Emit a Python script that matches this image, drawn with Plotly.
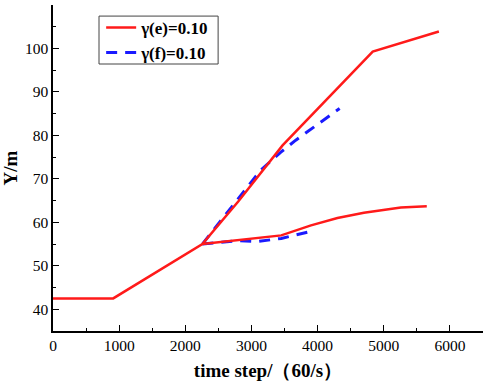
import plotly.graph_objects as go

# Data
red_upper_x = [0, 910, 2258, 2800, 3470, 4833, 5833]
red_upper_y = [42.5, 42.5, 55.0, 64.8, 77.7, 99.3, 103.9]

red_lower_x = [2258, 2833, 3450, 3900, 4300, 4700, 5258, 5650]
red_lower_y = [55.0, 56.0, 57.0, 59.3, 61.0, 62.2, 63.4, 63.7]

blue_upper_x = [2258, 2500, 2940, 3140, 3440, 3670, 4333]
blue_upper_y = [55.0, 59.6, 68.2, 72.0, 76.1, 78.9, 86.2]

blue_lower_x = [2258, 2800, 3100, 3450, 3900]
blue_lower_y = [55.0, 55.8, 55.6, 56.3, 57.9]

x_ticks = [0, 1000, 2000, 3000, 4000, 5000, 6000]
y_ticks = [40, 50, 60, 70, 80, 90, 100, 110]

RED = "#ff1a1a"
BLUE = "#1a1aff"
serif = "Liberation Serif, Times New Roman, serif"

fig = go.Figure()
fig.add_trace(go.Scatter(x=blue_upper_x + [None] + blue_lower_x,
                         y=blue_upper_y + [None] + blue_lower_y,
                         mode="lines", connectgaps=False,
                         line=dict(color=BLUE, width=3, dash="11px,8px"),
                         name="<b>γ(f)=0.10</b>", legendrank=2))
fig.add_trace(go.Scatter(x=red_upper_x + [None] + red_lower_x,
                         y=red_upper_y + [None] + red_lower_y,
                         mode="lines", connectgaps=False,
                         line=dict(color=RED, width=2.5),
                         name="<b>γ(e)=0.10</b>", legendrank=1))

axis_common = dict(showline=True, linecolor="black", linewidth=1.5,
                   showgrid=False, zeroline=False, ticks="inside",
                   ticklen=6, tickwidth=1.2, tickcolor="black",
                   automargin=False,
                   tickfont=dict(family=serif, size=15.5, color="black"))

fig.update_xaxes(range=[0, 6500], tickvals=x_ticks,
                 minor=dict(ticks="inside", dtick=500, tick0=0, ticklen=3,
                            tickwidth=1.2, tickcolor="black"),
                 title=dict(text="<b>time step/（60/s）</b>",
                            font=dict(family=serif, size=19, color="black"),
                            standoff=10),
                 **axis_common)
fig.update_yaxes(range=[35, 110], tickvals=y_ticks,
                 minor=dict(ticks="inside", dtick=5, tick0=35, ticklen=3,
                            tickwidth=1.2, tickcolor="black"),
                 title=dict(text="<b>Y/m</b>",
                            font=dict(family=serif, size=19, color="black"),
                            standoff=6),
                 **axis_common)

# legend frame drawn as a shape (paper coordinates)
fig.add_shape(type="rect", xref="paper", yref="paper",
              x0=0.107, x1=0.384, y0=0.819, y1=0.966,
              line=dict(color="#444", width=1), fillcolor="rgba(0,0,0,0)",
              layer="above")

fig.update_layout(
    width=484, height=381,
    margin=dict(l=53, r=1, t=5, b=50),
    plot_bgcolor="white", paper_bgcolor="white",
    legend=dict(x=0.112, y=0.985, xanchor="left", yanchor="top",
                borderwidth=0, bgcolor="rgba(0,0,0,0)",
                font=dict(family=serif, size=17, color="black"),
                tracegroupgap=0, itemwidth=30),
    showlegend=True,
)

fig.write_html("out.html", config={"displayModeBar": False},
               post_script="document.body.style.margin='0';")
